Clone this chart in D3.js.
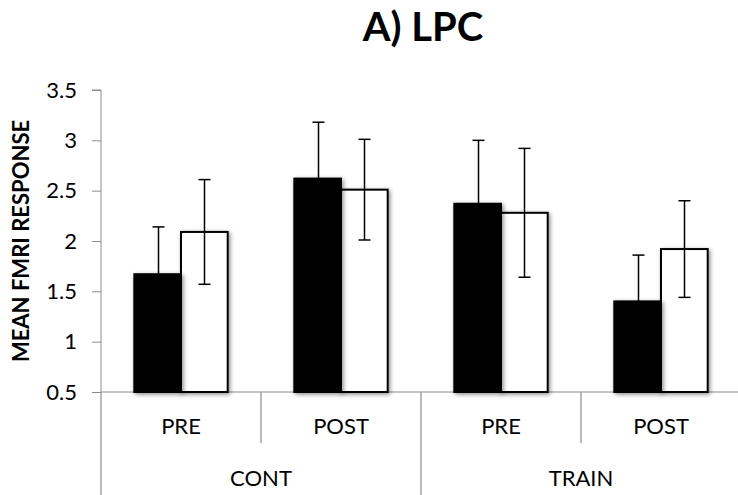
<!DOCTYPE html>
<html>
<head>
<meta charset="utf-8">
<script src="https://cdn.jsdelivr.net/npm/d3@7"></script>
<style>
  html, body { margin: 0; padding: 0; background: #fff; }
  svg { display: block; }
  text { font-family: Lato, "Open Sans", sans-serif; fill: #000; }
</style>
</head>
<body>
<svg id="chart" width="738" height="495"></svg>
<script>
// ---- data ----
const title = "A) LPC";
const yLabel = "MEAN FMRI RESPONSE";
const groups = ["CONT", "TRAIN"];
const phases = ["PRE", "POST"];
const series = ["s1", "s2"];          // black, white
const blackValues = [1.67, 2.62, 2.37, 1.40];
const blackErrors = [0.47, 0.56, 0.63, 0.46];
const whiteValues = [2.09, 2.51, 2.28, 1.92];
const whiteErrors = [0.52, 0.50, 0.64, 0.48];
const yTicks = [0.5, 1, 1.5, 2, 2.5, 3, 3.5];

// ---- layout ----
const svg = d3.select("#chart");
const pL = 101, pR = 741, pT = 90, pB = 392;

const cats = [];
groups.forEach(g => phases.forEach(p => cats.push(g + "|" + p)));

const x = d3.scaleBand().domain(cats).range([pL, pR]).padding(0);
const xg = d3.scaleBand().domain(groups).range([pL, pR]).padding(0);
const x1 = d3.scaleBand().domain(series).range([0, x.bandwidth()]).paddingInner(0).paddingOuter(0.714);
const y = d3.scaleLinear().domain([0.5, 3.5]).range([pB, pT]);

// shadow filter
const defs = svg.append("defs");
const f = defs.append("filter").attr("id", "sh").attr("x", "-30%").attr("y", "-30%").attr("width", "160%").attr("height", "160%");
f.append("feDropShadow").attr("dx", 1.5).attr("dy", 1.5).attr("stdDeviation", 2.2)
  .attr("flood-color", "#000").attr("flood-opacity", 0.45);

// title
svg.append("text").attr("x", 423).attr("y", 41).attr("text-anchor", "middle")
  .attr("font-size", 40).attr("font-weight", 700).text(title);

// y axis
const yAxis = d3.axisLeft(y).tickValues(yTicks).tickSize(9).tickPadding(15)
  .tickFormat(d => String(d));
const gy = svg.append("g").attr("transform", `translate(${pL},0)`).call(yAxis);
gy.select(".domain").attr("stroke", "#8c8c8c").attr("d", `M-9,${pT}H0V${pB}`);
gy.selectAll(".tick line").attr("stroke", "#8c8c8c");
gy.selectAll(".tick text").attr("font-size", 22).attr("font-family", "Lato, sans-serif").attr("fill", "#000");

// y label
svg.append("text").attr("transform", `translate(29,${(pT + pB) / 2}) rotate(-90)`)
  .attr("text-anchor", "middle").attr("font-size", 22).attr("font-weight", 700).text(yLabel);

// x axis line
svg.append("line").attr("x1", pL).attr("x2", 738).attr("y1", pB).attr("y2", pB)
  .attr("stroke", "#8c8c8c").attr("stroke-width", 1.2);

// category boundaries
cats.forEach((c, i) => {
  const xx = x(c);
  const isGroupEdge = i % phases.length === 0;
  svg.append("line").attr("x1", xx).attr("x2", xx).attr("y1", pB)
    .attr("y2", isGroupEdge ? 495 : 443)
    .attr("stroke", "#8c8c8c").attr("stroke-width", 1.2);
});

// phase labels
svg.append("g").selectAll("text").data(cats).join("text")
  .attr("x", c => x(c) + x.bandwidth() / 2).attr("y", 434)
  .attr("text-anchor", "middle").attr("font-size", 22)
  .text(c => c.split("|")[1]);

// group labels
svg.append("g").selectAll("text").data(groups).join("text")
  .attr("x", g => xg(g) + xg.bandwidth() / 2).attr("y", 486)
  .attr("text-anchor", "middle").attr("font-size", 22)
  .text(g => g);

// bars
const rows = cats.map((c, i) => ({
  cat: c,
  vals: [
    { s: "s1", v: blackValues[i], e: blackErrors[i], fill: "#000" },
    { s: "s2", v: whiteValues[i], e: whiteErrors[i], fill: "#fff" }
  ]
}));

const gBars = svg.append("g");
rows.forEach(r => {
  r.vals.slice().reverse().forEach(d => {
    gBars.append("rect")
      .attr("x", x(r.cat) + x1(d.s))
      .attr("y", y(d.v))
      .attr("width", x1.bandwidth())
      .attr("height", y(0.5) - y(d.v))
      .attr("fill", d.fill)
      .attr("stroke", "#000").attr("stroke-width", 2)
      .attr("filter", "url(#sh)");
  });
});

// error bars
const gErr = svg.append("g").attr("stroke", "#000").attr("stroke-width", 1.5);
rows.forEach(r => {
  r.vals.forEach(d => {
    const cx = Math.round(x(r.cat) + x1(d.s) + x1.bandwidth() / 2) + 0.5;
    const y0 = y(d.v - d.e), y1 = y(d.v + d.e);
    gErr.append("line").attr("x1", cx).attr("x2", cx).attr("y1", y0).attr("y2", y1);
    gErr.append("line").attr("x1", cx - 6).attr("x2", cx + 6).attr("y1", y1).attr("y2", y1);
    gErr.append("line").attr("x1", cx - 6).attr("x2", cx + 6).attr("y1", y0).attr("y2", y0);
  });
});
</script>
</body>
</html>
